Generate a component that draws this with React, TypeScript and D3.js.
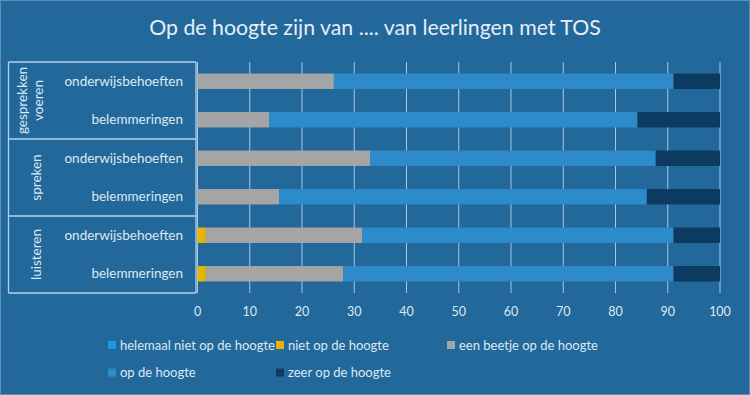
import React, {useRef, useEffect} from 'react';
import * as d3 from 'd3';

// categories (top to bottom)
const groups = ['gesprekken voeren', 'spreken', 'luisteren'];
const groupLines = [['gesprekken', 'voeren'], ['spreken'], ['luisteren']];
const items = ['onderwijsbehoeften', 'belemmeringen'];

// series, in stacking order
const seriesNames = [
    'helemaal niet op de hoogte',
    'niet op de hoogte',
    'een beetje op de hoogte',
    'op de hoogte',
    'zeer op de hoogte'
];
const seriesColors = ['#1c9ddf', '#eab404', '#a5a5a5', '#2e8bca', '#0c3a60'];

// one array per row: gv-ond, gv-bel, spr-ond, spr-bel, lui-ond, lui-bel
const helemaalNiet = [0, 0, 0, 0, 0, 0];
const niet = [0, 0, 0, 0, 1.6, 1.6];
const eenBeetje = [26.1, 13.7, 33.1, 15.6, 29.9, 26.3];
const opDeHoogte = [65.0, 70.5, 54.6, 70.4, 59.6, 63.2];
const zeer = [8.9, 15.8, 12.3, 14.0, 8.9, 8.9];

const xTicks = [0, 10, 20, 30, 40, 50, 60, 70, 80, 90, 100];

const W = 750, H = 395;
const FONT = 'Lato, "Open Sans", sans-serif';
const TEXT = '#dce8f3';

const App = () => {
    const svgRef = useRef<SVGSVGElement>(null);

    useEffect(() => {
        const svg = d3.select(svgRef.current);
        svg.selectAll('*').remove();

        const rows = groups.flatMap(g => items.map(it => g + '|' + it));
        const data = rows.map((r, i) => ({
            row: r,
            vals: [helemaalNiet[i], niet[i], eenBeetje[i], opDeHoogte[i], zeer[i]]
        }));

        const x = d3.scaleLinear().domain([0, 100]).range([197.5, 720]);
        const y = d3.scaleBand().domain(rows).range([62, 293]).paddingInner(0.6).paddingOuter(0.3);
        const step = y.step();

        // background
        svg.append('rect').attr('width', W).attr('height', H).attr('fill', '#22689a');
        svg.append('rect').attr('x', 0.5).attr('y', 0.5).attr('width', W - 1).attr('height', H - 1)
            .attr('fill', 'none').attr('stroke', '#5d8fba');

        // title
        svg.append('text')
            .attr('x', W / 2).attr('y', 35)
            .attr('text-anchor', 'middle')
            .attr('font-family', FONT).attr('font-size', 21.3)
            .attr('fill', '#e6eef6')
            .text('Op de hoogte zijn van .... van leerlingen met TOS');

        // gridlines
        svg.append('g').selectAll('line').data(xTicks).join('line')
            .attr('x1', d => x(d)).attr('x2', d => x(d))
            .attr('y1', 62).attr('y2', 293)
            .attr('stroke', '#a8c8e6').attr('stroke-width', 1);

        // stacked bars
        const barG = svg.append('g');
        data.forEach(d => {
            let acc = 0;
            d.vals.forEach((v, k) => {
                if (v > 0) {
                    barG.append('rect')
                        .attr('x', x(acc))
                        .attr('width', x(acc + v) - x(acc))
                        .attr('y', y(d.row))
                        .attr('height', y.bandwidth())
                        .attr('fill', seriesColors[k]);
                }
                acc += v;
            });
        });

        // x axis labels
        svg.append('g').selectAll('text').data(xTicks).join('text')
            .attr('x', d => x(d)).attr('y', 316)
            .attr('text-anchor', 'middle')
            .attr('font-family', FONT).attr('font-size', 12.5)
            .attr('fill', TEXT)
            .text(d => d);

        // category box
        const boxL = 8.5, boxR = 196;
        const boxTop = 62, boxBottom = 293;
        const box = svg.append('g').attr('stroke', '#b5d2ec').attr('stroke-width', 1.3).attr('fill', 'none');
        box.append('line').attr('x1', boxL).attr('x2', boxL).attr('y1', boxTop).attr('y2', boxBottom);
        box.append('line').attr('x1', boxR).attr('x2', boxR).attr('y1', boxTop).attr('y2', boxBottom);
        [0, 1, 2, 3].forEach(i => {
            const yy = boxTop + i * 2 * step;
            box.append('line').attr('x1', boxL).attr('x2', boxR).attr('y1', yy).attr('y2', yy);
        });

        // item labels
        svg.append('g').selectAll('text').data(rows).join('text')
            .attr('x', 183)
            .attr('y', d => (y(d) as number) + y.bandwidth() / 2 + 4.5)
            .attr('text-anchor', 'end')
            .attr('font-family', FONT).attr('font-size', 13.5)
            .attr('fill', TEXT)
            .text(d => d.split('|')[1]);

        // group labels (rotated)
        groupLines.forEach((lines, gi) => {
            const cy = boxTop + gi * 2 * step + step;
            lines.forEach((ln, li) => {
                const cx = lines.length === 1 ? 41 : 27 + li * 16;
                svg.append('text')
                    .attr('transform', `translate(${cx},${cy}) rotate(-90)`)
                    .attr('text-anchor', 'middle')
                    .attr('font-family', FONT).attr('font-size', 13.5)
                    .attr('fill', TEXT)
                    .text(ln);
            });
        });

        // legend
        const legendPos = [[108, 349.5], [276, 349.5], [447, 349.5], [108, 377], [276, 377]];
        const leg = svg.append('g');
        seriesNames.forEach((name, i) => {
            const [lx, ly] = legendPos[i];
            leg.append('rect').attr('x', lx).attr('y', ly - 8.5).attr('width', 8).attr('height', 8)
                .attr('fill', seriesColors[i]);
            leg.append('text').attr('x', lx + 12).attr('y', ly)
                .attr('font-family', FONT).attr('font-size', 13)
                .attr('fill', TEXT)
                .text(name);
        });
    }, []);

    return (
        <div style={{position: 'absolute', left: 0, top: 0}}>
            <svg ref={svgRef} width={W} height={H} style={{display: 'block'}}/>
        </div>
    );
};

export default App;
